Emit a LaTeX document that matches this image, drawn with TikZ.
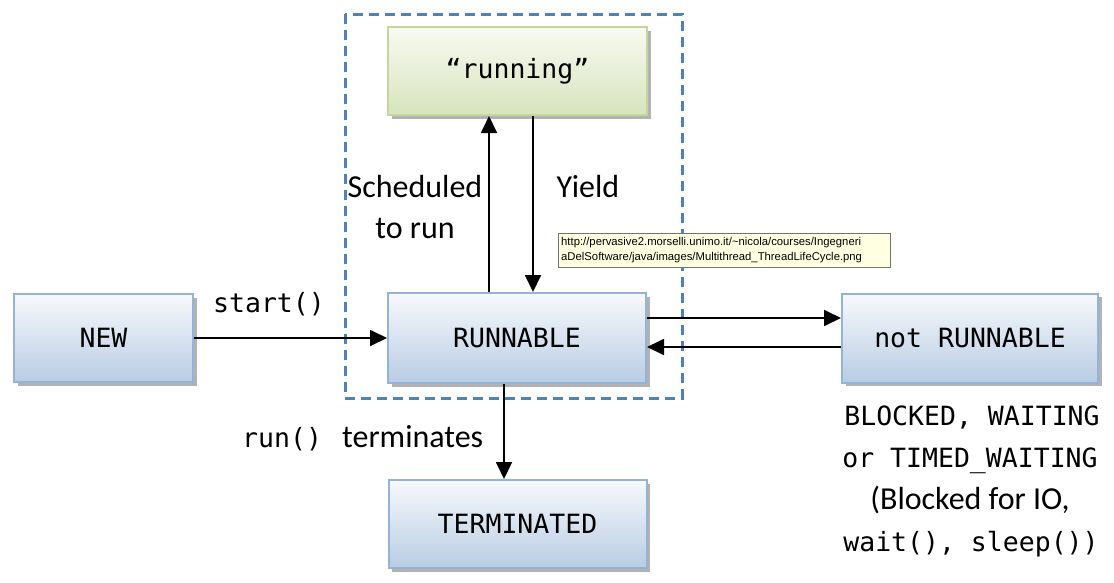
\documentclass[tikz,border=0pt]{standalone}
\usepackage{fontspec}
\setmainfont{Carlito}
\setmonofont{DejaVu Sans Mono}
\newfontfamily\tipfont{Liberation Sans}
\usetikzlibrary{arrows.meta,calc}
\definecolor{bborder}{HTML}{95B3D7}
\definecolor{btop}{HTML}{F7F9FC}
\definecolor{bbot}{HTML}{B8CCE4}
\definecolor{gborder}{HTML}{C3D69B}
\definecolor{gtop}{HTML}{F8FAF1}
\definecolor{gbot}{HTML}{D7E4BD}
\definecolor{dashblue}{HTML}{4F81BD}
\definecolor{tipfill}{HTML}{FFFFE1}
\tikzset{
  statebox/.style={rectangle, draw=bborder, line width=2pt, top color=btop, bottom color=bbot,
    minimum width=258pt, minimum height=89pt, inner sep=0pt, font=\fontsize{26.5}{30}\ttfamily,
    blur shadow},
  greenbox/.style={statebox, draw=gborder, top color=gtop, bottom color=gbot},
  arr/.style={-{Triangle[length=17pt,width=16pt]}, line width=1.8pt},
  lbl/.style={inner sep=0pt, anchor=base, font=\fontsize{32}{36}\selectfont},
  code/.style={inner sep=0pt, anchor=base, font=\fontsize{26.5}{30}\ttfamily},
  blur shadow/.style={preaction={fill=black!30, transform canvas={shift={(3.5pt,-3.5pt)}}}}
}
\begin{document}
\begin{tikzpicture}[x=1pt,y=-1pt]
\useasboundingbox (0,0) rectangle (1114,582);
% dashed group
\draw[dashblue, line width=3pt, dash pattern=on 10pt off 6pt] (345,14) rectangle (682,398);
% states
\node[statebox, minimum width=179pt, minimum height=88pt] (new) at (103.5,338) {NEW};
\node[statebox, minimum height=90pt] (runnable) at (517,338) {RUNNABLE};
\node[statebox, minimum width=256pt] (notrun) at (970,338) {not RUNNABLE};
\node[statebox, minimum height=88pt] (term) at (517.5,524) {TERMINATED};
\node[greenbox, minimum width=259pt, minimum height=88pt] (running) at (517.5,71) {“running”};
% helper coordinates
\coordinate (sx) at (489,0);
\coordinate (yx) at (533,0);
\coordinate (tx) at (504,0);
\coordinate (ya) at (0,318);
\coordinate (yb) at (0,347);
% connectors
\draw[arr] (new.east) -- (runnable.west);
\draw[arr] (runnable.north -| sx) -- (running.south -| sx);
\draw[arr] (running.south -| yx) -- (runnable.north -| yx);
\draw[arr] (runnable.east |- ya) -- (notrun.west |- ya);
\draw[arr] (notrun.west |- yb) -- (runnable.east |- yb);
\draw[arr] (runnable.south -| tx) -- (term.north -| tx);
% labels
\node[code] (lstart) at (269,312) {start()};
\node[lbl] (lsched) at (415,197) {Scheduled};
\node[lbl] (lto) at (415,238) {to run};
\node[lbl] (lyield) at (588,197) {Yield};
\node[code, anchor=base west] (lrun) at (242,447) {run()};
\node[lbl, anchor=base west] (lterm) at (342,447) {terminates};
\node[code] (b1) at (972,425) {BLOCKED, WAITING};
\node[code] (b2) at (970,467) {or TIMED\_WAITING};
\node[lbl] (b3) at (970,509) {(Blocked for IO,};
\node[code] (b4) at (971,551) {wait(), sleep())};
% tooltip
\node[draw=black!55, fill=tipfill, line width=0.8pt, minimum width=332pt, minimum height=34pt, inner sep=0pt] (tip) at (724,250) {};
\node[inner sep=0pt, anchor=base west, font=\tipfont\fontsize{11.3}{14}\selectfont] (t1) at (561,245) {http://pervasive2.morselli.unimo.it/\textasciitilde nicola/courses/Ingegneri};
\node[inner sep=0pt, anchor=base west, font=\tipfont\fontsize{11.3}{14}\selectfont] (t2) at (561,260) {aDelSoftware/java/images/Multithread\_ThreadLifeCycle.png};
\end{tikzpicture}
\end{document}
